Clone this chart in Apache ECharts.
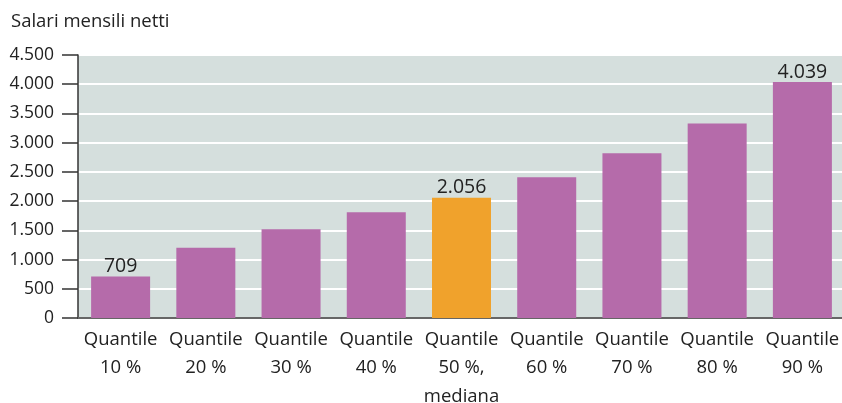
<!DOCTYPE html>
<html>
<head>
<meta charset="utf-8">
<script src="https://cdn.jsdelivr.net/npm/echarts@6/dist/echarts.min.js"></script>
<style>
  html, body { margin: 0; padding: 0; background: #fff; }
  #chart { width: 842px; height: 403px; }
</style>
</head>
<body>
<div id="chart"></div>
<script>
// Net monthly salaries by quantile
const categories = [
  'Quantile\n10 %', 'Quantile\n20 %', 'Quantile\n30 %', 'Quantile\n40 %',
  'Quantile\n50 %,\nmediana', 'Quantile\n60 %', 'Quantile\n70 %', 'Quantile\n80 %', 'Quantile\n90 %'
];
const salaries = [709, 1200, 1520, 1810, 2056, 2410, 2820, 3330, 4039];
const labelledIndexes = [0, 4, 8];
const medianIndex = 4;

const purple = '#B56BAA';
const orange = '#F0A22C';
const fontFamily = '"Open Sans", Lato, sans-serif';

function fmt(v) {
  return String(v).replace(/\B(?=(\d{3})+(?!\d))/g, '.');
}

const chart = echarts.init(document.getElementById('chart'));
chart.setOption({
  animation: false,
  textStyle: { fontFamily: fontFamily },
  title: {
    text: 'Salari mensili netti',
    left: 6, top: 7,
    textStyle: { fontSize: 18.5, fontWeight: 'normal', color: '#222', fontFamily: fontFamily }
  },
  grid: {
    left: 78, top: 55, width: 767, height: 263,
    outerBoundsMode: 'none',
    containLabel: false,
    show: true, backgroundColor: '#D5DFDD', borderWidth: 0
  },
  xAxis: {
    type: 'category',
    data: categories,
    axisTick: { show: false },
    axisLine: { lineStyle: { color: '#666', width: 2 } },
    axisLabel: {
      interval: 0, margin: 7, fontSize: 18.5, lineHeight: 28.5, color: '#222', fontFamily: fontFamily
    }
  },
  yAxis: {
    type: 'value',
    min: 0, max: 4500, interval: 500,
    axisLine: { show: true, lineStyle: { color: '#333', width: 1.5 } },
    axisTick: { show: true, length: 16, lineStyle: { color: '#333', width: 1.5 } },
    axisLabel: { margin: 24, fontSize: 17.5, color: '#222', fontFamily: fontFamily, formatter: fmt },
    splitLine: { show: true, lineStyle: { color: '#fff', width: 2 } }
  },
  series: [{
    type: 'bar',
    data: salaries.map((v, i) => ({
      value: v,
      itemStyle: { color: i === medianIndex ? orange : purple },
      label: { show: labelledIndexes.includes(i) }
    })),
    barWidth: 59,
    label: {
      position: 'top', distance: 0, fontSize: 19.5, color: '#222', fontFamily: fontFamily,
      formatter: p => fmt(p.value)
    }
  }]
});
</script>
</body>
</html>
